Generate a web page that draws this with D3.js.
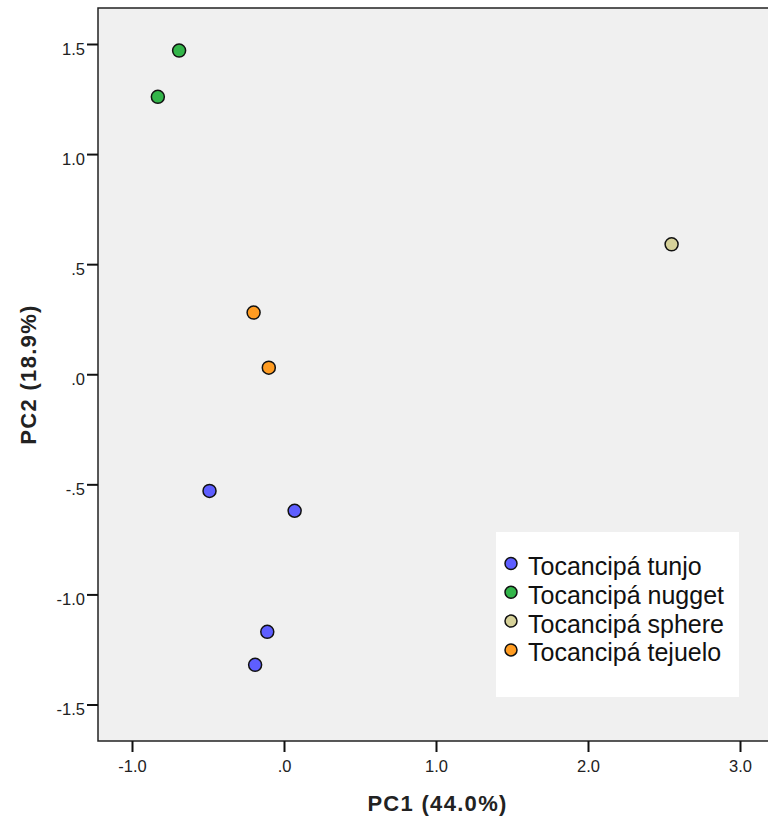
<!DOCTYPE html>
<html><head><meta charset="utf-8">
<script src="https://cdn.jsdelivr.net/npm/d3@7"></script>
<style>body{margin:0;background:#fff;}svg{display:block;font-family:"Liberation Sans",Arial,sans-serif;}</style>
</head><body>
<svg id="c" width="768" height="823"></svg>
<script>
const groups = ["Tocancipá tunjo","Tocancipá nugget","Tocancipá sphere","Tocancipá tejuelo"];
const colors = ["#5e5eff","#33b54a","#d6d199","#ff9c22"];
const pc1 = [-0.49, 0.07, -0.11, -0.19, -0.69, -0.83, 2.55, -0.20, -0.10];
const pc2 = [-0.53, -0.62, -1.17, -1.32, 1.47, 1.26, 0.59, 0.28, 0.03];
const grp = [0, 0, 0, 0, 1, 1, 2, 3, 3];
const xTicks = [-1, 0, 1, 2, 3];
const yTicks = [-1.5, -1, -0.5, 0, 0.5, 1, 1.5];
const fmt = v => { const s = d3.format(".1f")(v).replace("−", "-"); return s.replace(/^(-?)0\./, "$1."); };

const svg = d3.select("#c");
const L = 98, T = 8, B = 741, R = 772;
const x = d3.scaleLinear().domain([-1, 3]).range([132, 740]);
const y = d3.scaleLinear().domain([-1.5, 1.5]).range([704.5, 44]);

svg.append("rect").attr("x", L).attr("y", T).attr("width", R - L).attr("height", B - T)
  .attr("fill", "#f0f0f0").attr("stroke", "#222").attr("stroke-width", 1.5);

const xa = svg.append("g").attr("transform", `translate(0,${B})`)
  .call(d3.axisBottom(x).tickValues(xTicks).tickFormat(fmt).tickSize(11).tickSizeOuter(0));
const ya = svg.append("g").attr("transform", `translate(${L},0)`)
  .call(d3.axisLeft(y).tickValues(yTicks).tickFormat(fmt).tickSize(11).tickSizeOuter(0));
[xa, ya].forEach(a => {
  a.select(".domain").remove();
  a.selectAll("line").attr("stroke", "#111").attr("stroke-width", 2);
  a.selectAll("text").attr("font-size", 16.5).attr("fill", "#222").attr("font-family", "Liberation Sans, Arial, sans-serif");
});
xa.selectAll("text").attr("y", 31).attr("dy", 0);
ya.selectAll("text").attr("x", -13).attr("dy", 10);

svg.selectAll("circle.pt").data(pc1.map((v, i) => ({x: v, y: pc2[i], g: grp[i]})))
  .enter().append("circle").attr("class", "pt")
  .attr("cx", d => x(d.x)).attr("cy", d => y(d.y)).attr("r", 6.5)
  .attr("fill", d => colors[d.g]).attr("stroke", "#111").attr("stroke-width", 1.5);

// legend
const lg = svg.append("g");
lg.append("rect").attr("x", 496).attr("y", 532).attr("width", 243).attr("height", 165).attr("fill", "#fff");
groups.forEach((g, i) => {
  const yy = 563.5 + i * 28.8;
  lg.append("circle").attr("cx", 511).attr("cy", yy).attr("r", 6).attr("fill", colors[i])
    .attr("stroke", "#111").attr("stroke-width", 1.5);
  lg.append("text").attr("x", 528).attr("y", yy + 11.5).attr("font-size", 25)
    .attr("fill", "#111").text(g);
});

svg.append("text").attr("x", 437.5).attr("y", 811).attr("text-anchor", "middle")
  .attr("font-size", 22).attr("font-weight", "bold").attr("letter-spacing", 1.3).attr("fill", "#222").text("PC1 (44.0%)");
svg.append("text").attr("transform", "translate(36,374.5) rotate(-90)").attr("text-anchor", "middle")
  .attr("font-size", 22).attr("font-weight", "bold").attr("letter-spacing", 1.3).attr("fill", "#222").text("PC2 (18.9%)");
</script>
</body></html>
